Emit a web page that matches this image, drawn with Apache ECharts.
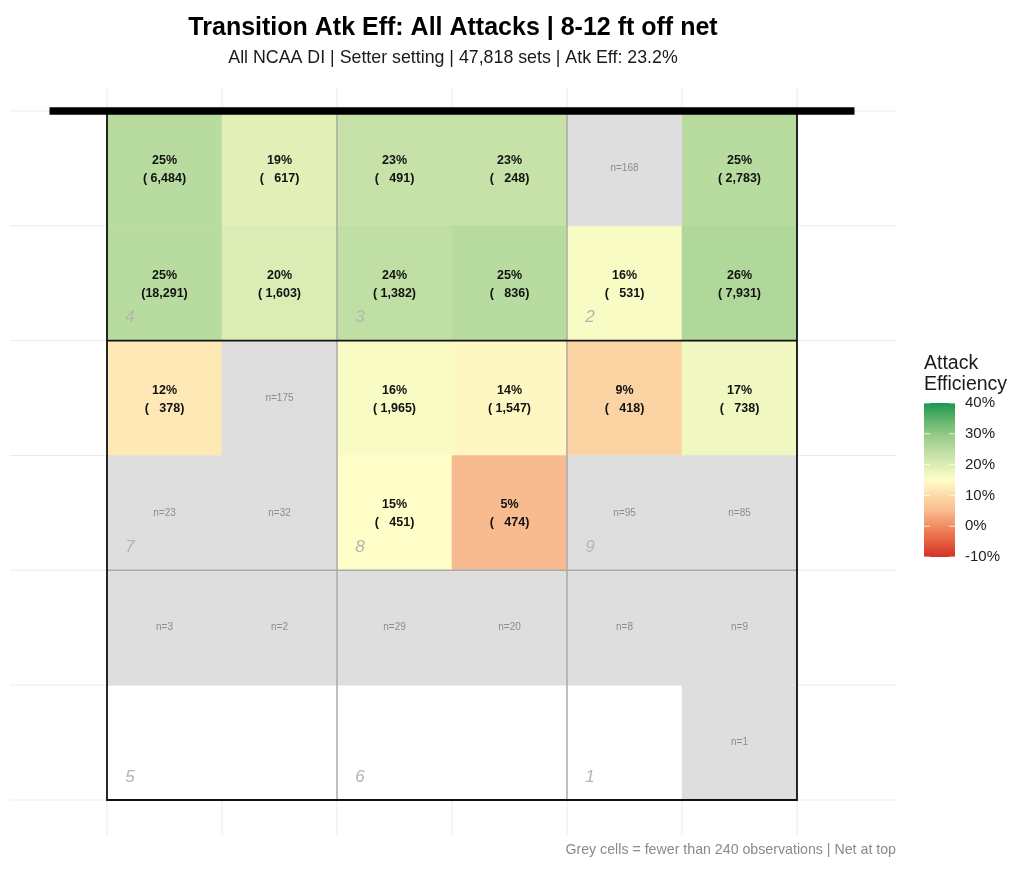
<!DOCTYPE html>
<html><head><meta charset="utf-8">
<script src="https://cdn.jsdelivr.net/npm/echarts@6/dist/echarts.min.js"></script>
<style>html,body{margin:0;padding:0;background:#fff}#chart{width:1024px;height:875px}</style>
</head><body><div id="chart"></div>
<script>
const FONT = '"Liberation Sans", Arial, Helvetica, sans-serif';

// ---- data ----
const TITLE = 'Transition Atk Eff: All Attacks | 8-12 ft off net';
const SUBTITLE = 'All NCAA DI | Setter setting | 47,818 sets | Atk Eff: 23.2%';
const CAPTION = 'Grey cells = fewer than 240 observations | Net at top';
const LEGEND_TITLE = 'Attack\nEfficiency';

const GRID_BREAKS = [0, 1, 2, 3, 4, 5, 6];
// attack efficiency (%) per cell, rows from net (top) to back line
const EFFICIENCY = [
  [25, 19, 23, 23, null, 25],
  [25, 20, 24, 25, 16, 26],
  [12, null, 16, 14, 9, 17],
  [null, null, 15, 5, null, null],
  [null, null, null, null, null, null],
  [null, null, null, null, null, null]
];
// number of sets per cell
const ATTEMPTS = [
  [6484, 617, 491, 248, 168, 2783],
  [18291, 1603, 1382, 836, 531, 7931],
  [378, 175, 1965, 1547, 418, 738],
  [23, 32, 451, 474, 95, 85],
  [3, 2, 29, 20, 8, 9],
  [0, 0, 0, 0, 0, 1]
];
const MIN_N = 240;
// zone number, column, row
const ZONE_LABELS = [
  ['4', 0, 1], ['3', 2, 1], ['2', 4, 1],
  ['7', 0, 3], ['8', 2, 3], ['9', 4, 3],
  ['5', 0, 5], ['6', 2, 5], ['1', 4, 5]
];
const LEGEND_TICKS = [-10, 0, 10, 20, 30, 40];
const SCALE_MIN = -10, SCALE_MAX = 40;
const SCALE_COLORS = ['#d73027', '#e4603f', '#f08d60', '#f8bb8f', '#fddaa8', '#fffec8',
                      '#dbedb4', '#b8dba0', '#90ca84', '#5cb169', '#1a9850'];
const COURT_EXTENT = [0, 6];
const NET_SPAN = [-0.5, 6.5];
const ZONE_DIVIDERS_X = [2, 4];
const ZONE_DIVIDERS_Y = [4];
const ATTACK_LINE_Y = [2];

// ---- build series data ----
const coloredCells = [], greyCells = [];
ATTEMPTS.forEach((row, r) => row.forEach((n, c) => {
  if (n >= MIN_N) coloredCells.push([c, r, EFFICIENCY[r][c], n]);
  else if (n > 0) greyCells.push([c, r, n]);
}));

const X_MIN = -0.8435, X_MAX = 6.861, Y_MIN = -0.2, Y_MAX = 6.305;

function cellRect(api, c, r) {
  const p0 = api.coord([c, r]), p1 = api.coord([c + 1, r + 1]);
  return { x: p0[0], y: Math.min(p0[1], p1[1]), width: p1[0] - p0[0], height: Math.abs(p1[1] - p0[1]) };
}
function fmtN(n) { return n.toLocaleString('en-US').padStart(6, ' '); }

const chart = echarts.init(document.getElementById('chart'), null, { renderer: 'canvas' });

const lb = { x: 924, y: 403, w: 31, h: 154 };
const legendGraphics = [
  { type: 'text', x: 924, y: 374.5, style: { text: LEGEND_TITLE, font: '19.5px ' + FONT, fill: '#1a1a1a', lineHeight: 21, align: 'left', verticalAlign: 'middle' } },
  { type: 'rect', shape: { x: lb.x, y: lb.y, width: lb.w, height: lb.h },
    style: { fill: { type: 'linear', x: 0, y: 0, x2: 0, y2: 1,
      colorStops: SCALE_COLORS.slice().reverse().map((col, i) => ({ offset: i / (SCALE_COLORS.length - 1), color: col })) } } }
];
LEGEND_TICKS.forEach(t => {
  const y = lb.y + (SCALE_MAX - t) / (SCALE_MAX - SCALE_MIN) * lb.h;
  legendGraphics.push({ type: 'line', shape: { x1: lb.x, y1: y, x2: lb.x + 6, y2: y }, style: { stroke: 'rgba(255,255,255,0.8)', lineWidth: 1 } });
  legendGraphics.push({ type: 'line', shape: { x1: lb.x + lb.w - 6, y1: y, x2: lb.x + lb.w, y2: y }, style: { stroke: 'rgba(255,255,255,0.8)', lineWidth: 1 } });
  legendGraphics.push({ type: 'text', x: 965, y: y, style: { text: t + '%', font: '15px ' + FONT, fill: '#222', align: 'left', verticalAlign: 'middle' } });
});

const option = {
  backgroundColor: '#fff',
  animation: false,
  grid: { left: 10, top: 88, width: 886, height: 747, containLabel: false },
  xAxis: { type: 'value', min: X_MIN, max: X_MAX, show: false },
  yAxis: { type: 'value', min: Y_MIN, max: Y_MAX, inverse: true, show: false },
  visualMap: { type: 'continuous', show: false, min: SCALE_MIN, max: SCALE_MAX, dimension: 2, seriesIndex: 2,
    inRange: { color: SCALE_COLORS } },
  graphic: [
    { type: 'text', x: 453, y: 28, style: { text: TITLE, font: 'bold 25px ' + FONT, fill: '#000', align: 'center', verticalAlign: 'middle' } },
    { type: 'text', x: 453, y: 58, style: { text: SUBTITLE, font: '17.8px ' + FONT, fill: '#1a1a1a', align: 'center', verticalAlign: 'middle' } },
    { type: 'text', x: 896, y: 850, style: { text: CAPTION, font: '14.2px ' + FONT, fill: '#8a8a8a', align: 'right', verticalAlign: 'middle' } }
  ].concat(legendGraphics),
  series: [
    { // background grid
      type: 'custom', silent: true, z: 1, data: GRID_BREAKS.map(b => [b]),
      renderItem(params, api) {
        const b = api.value(0);
        const h0 = api.coord([X_MIN, b]), h1 = api.coord([X_MAX, b]);
        const v0 = api.coord([b, Y_MIN]), v1 = api.coord([b, Y_MAX]);
        const st = { stroke: '#ebebeb', lineWidth: 1 };
        return { type: 'group', children: [
          { type: 'line', shape: { x1: h0[0], y1: h0[1], x2: h1[0], y2: h1[1] }, style: st },
          { type: 'line', shape: { x1: v0[0], y1: v0[1], x2: v1[0], y2: v1[1] }, style: st }
        ] };
      }
    },
    { // court background
      type: 'custom', silent: true, z: 2, data: [[COURT_EXTENT[0], COURT_EXTENT[1]]],
      renderItem(params, api) {
        const p0 = api.coord([api.value(0), api.value(0)]), p1 = api.coord([api.value(1), api.value(1)]);
        return { type: 'rect', shape: { x: p0[0], y: p0[1], width: p1[0] - p0[0], height: p1[1] - p0[1] }, style: { fill: '#fff' } };
      }
    },
    { // coloured cells
      type: 'custom', z: 3, data: coloredCells,
      renderItem(params, api) {
        const c = api.value(0), r = api.value(1), e = api.value(2), n = api.value(3);
        const rect = cellRect(api, c, r);
        const col = api.visual('color');
        return { type: 'group', children: [
          { type: 'rect', shape: rect, style: { fill: col, stroke: col, lineWidth: 0.5 } },
          { type: 'text', style: { text: e + '%\n(' + fmtN(n) + ')', x: rect.x + rect.width / 2, y: rect.y + rect.height / 2 + 1,
            align: 'center', verticalAlign: 'middle', font: 'bold 12.5px ' + FONT, lineHeight: 18, fill: '#111' } }
        ] };
      }
    },
    { // grey (low-n) cells
      type: 'custom', z: 3, data: greyCells,
      renderItem(params, api) {
        const c = api.value(0), r = api.value(1), n = api.value(2);
        const rect = cellRect(api, c, r);
        return { type: 'group', children: [
          { type: 'rect', shape: rect, style: { fill: '#dedede', stroke: '#dedede', lineWidth: 0.5 } },
          { type: 'text', style: { text: 'n=' + n, x: rect.x + rect.width / 2, y: rect.y + rect.height / 2,
            align: 'center', verticalAlign: 'middle', font: '10px ' + FONT, fill: '#8c8c8c' } }
        ] };
      }
    },
    { // court lines
      type: 'custom', silent: true, z: 4, data: [[0]],
      renderItem(params, api) {
        const a = COURT_EXTENT[0], b = COURT_EXTENT[1];
        const ch = [];
        const seg = (x1, y1, x2, y2, stroke, w) => {
          const p = api.coord([x1, y1]), q = api.coord([x2, y2]);
          ch.push({ type: 'line', shape: { x1: p[0], y1: p[1], x2: q[0], y2: q[1] }, style: { stroke, lineWidth: w } });
        };
        ZONE_DIVIDERS_X.forEach(x => seg(x, a, x, b, '#aaaaaa', 1.5));
        ZONE_DIVIDERS_Y.forEach(y => seg(a, y, b, y, '#aaaaaa', 1.5));
        ATTACK_LINE_Y.forEach(y => seg(a, y, b, y, '#111', 1.8));
        const p0 = api.coord([a, a]), p1 = api.coord([b, b]);
        ch.push({ type: 'rect', shape: { x: p0[0], y: p0[1], width: p1[0] - p0[0], height: p1[1] - p0[1] },
          style: { fill: 'none', stroke: '#111', lineWidth: 1.8 } });
        seg(NET_SPAN[0], a, NET_SPAN[1], a, '#000', 7.5);
        return { type: 'group', children: ch };
      }
    },
    { // zone labels
      type: 'custom', silent: true, z: 5, data: ZONE_LABELS,
      renderItem(params, api) {
        const d = ZONE_LABELS[params.dataIndex];
        const p = api.coord([d[1] + 0.2, d[2] + 0.8]);
        return { type: 'text', style: { text: d[0], x: p[0], y: p[1], align: 'center', verticalAlign: 'middle',
          font: 'italic 17px ' + FONT, fill: '#b4b4b4' } };
      }
    }
  ]
};
chart.setOption(option);
</script>
</body></html>
